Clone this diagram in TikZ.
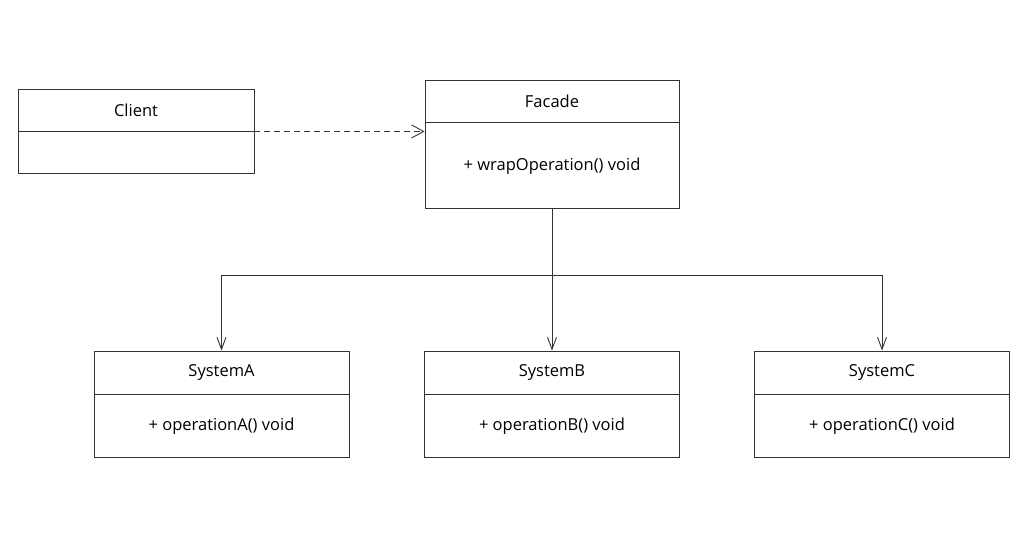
\documentclass[tikz,border=0pt]{standalone}
\usepackage{fontspec}
\setmainfont{Open Sans}
\usetikzlibrary{arrows.meta}
\definecolor{linegray}{HTML}{333333}
\tikzset{
  classhead/.style={draw=linegray, line width=0.9pt, minimum height=42pt, inner sep=0pt, font=\fontsize{16.5}{19}\selectfont},
  classbody/.style={draw=linegray, line width=0.9pt, inner sep=0pt, font=\fontsize{16.5}{19}\selectfont},
  dependency/.style={draw=linegray, line width=0.9pt, dash pattern=on 6pt off 4pt, -{Straight Barb[length=12pt,width=13pt]}},
  association/.style={draw=linegray, line width=0.9pt, -{Straight Barb[length=12pt,width=9pt]}}
}
\begin{document}
\begin{tikzpicture}[x=1pt,y=-1pt]
 \useasboundingbox (0,0) rectangle (1031,538);
 % client
 \node[classhead, minimum width=236pt] (clientHead) at (136,110) {Client};
 \node[classbody, minimum width=236pt, minimum height=42pt, anchor=north] (clientBody) at (clientHead.south) {};
 % facade
 \node[classhead, minimum width=254pt] (facadeHead) at (552,101) {Facade};
 \node[classbody, minimum width=254pt, minimum height=86pt, anchor=north] (facadeBody) at (facadeHead.south) {+ wrapOperation() void};
 % subsystems
 \foreach \name/\x/\op in {systemA/221.5/A, systemB/552/B, systemC/882/C}{
  \node[classhead, minimum width=255pt, minimum height=43pt] (\name Head) at (\x,372.5) {System\op};
  \node[classbody, minimum width=255pt, minimum height=63pt, anchor=north] (\name Body) at (\name Head.south) {+ operation\op() void};
 }
 % connectors
 \draw[dependency] (clientBody.north east) -- (clientBody.north east -| facadeBody.west);
 \coordinate (fork) at (552,275);
 \draw[association] (facadeBody.south) -- (systemBHead.north);
 \draw[association] (fork) -| (systemAHead.north);
 \draw[association] (fork) -| (systemCHead.north);
\end{tikzpicture}
\end{document}
